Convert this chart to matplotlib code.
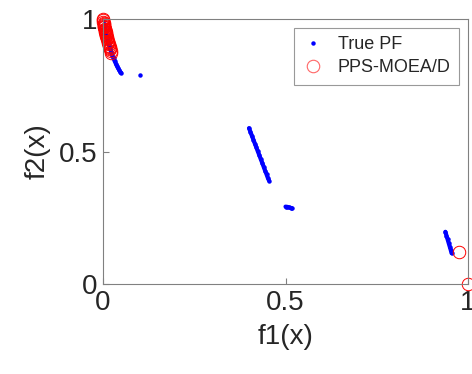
import matplotlib
matplotlib.use("Agg")
import matplotlib.pyplot as plt

plt.rcParams['font.family'] = ['Liberation Sans', 'DejaVu Sans']

# True PF (blue dots), one list pair per disconnected piece
pf1_x = [0.000, 0.002, 0.004, 0.006, 0.008, 0.010, 0.012, 0.014, 0.016, 0.018, 0.020,
         0.023, 0.026, 0.029, 0.032, 0.035, 0.038, 0.041, 0.044, 0.047, 0.050]
pf1_y = [1.000, 0.982, 0.968, 0.955, 0.944, 0.933, 0.923, 0.913, 0.904, 0.895, 0.886,
         0.874, 0.862, 0.851, 0.841, 0.832, 0.823, 0.815, 0.808, 0.801, 0.796]
pf2_x = [0.100]
pf2_y = [0.790]
pf3_x = [0.400, 0.404, 0.408, 0.412, 0.416, 0.420, 0.424, 0.428, 0.432, 0.436,
         0.440, 0.444, 0.448, 0.452, 0.455]
pf3_y = [0.588, 0.574, 0.559, 0.545, 0.530, 0.516, 0.501, 0.487, 0.472, 0.458,
         0.443, 0.428, 0.414, 0.399, 0.390]
pf4_x = [0.500, 0.505, 0.510, 0.515, 0.518]
pf4_y = [0.292, 0.291, 0.289, 0.287, 0.285]
pf5_x = [0.938, 0.941, 0.944, 0.947, 0.950, 0.953, 0.955]
pf5_y = [0.197, 0.183, 0.169, 0.155, 0.141, 0.127, 0.116]

# PPS-MOEA/D solutions (red circles)
pps_x = [0.000, 0.0005, 0.001, 0.0015, 0.002, 0.0025, 0.003, 0.0035, 0.004, 0.0045,
         0.005, 0.0055, 0.006, 0.0065, 0.007, 0.0075, 0.008, 0.0085, 0.009, 0.0095,
         0.010, 0.011, 0.012, 0.013, 0.014, 0.015, 0.016, 0.017, 0.018, 0.019,
         0.020, 0.021, 0.022, 0.975, 1.000]
pps_y = [1.000, 0.995, 0.990, 0.986, 0.982, 0.978, 0.975, 0.971, 0.968, 0.964,
         0.961, 0.958, 0.955, 0.952, 0.950, 0.947, 0.944, 0.941, 0.938, 0.936,
         0.933, 0.928, 0.923, 0.918, 0.913, 0.908, 0.904, 0.899, 0.895, 0.890,
         0.886, 0.880, 0.870, 0.121, 0.000]

x_ticks = [0, 0.5, 1]
y_ticks = [0, 0.5, 1]
x_ticklabels = ['0', '0.5', '1']
y_ticklabels = ['0', '0.5', '1']

fig = plt.figure(figsize=(4.72, 3.74), dpi=100)
ax = fig.add_axes([103/472, (374-284)/374, (468-103)/472, (284-19)/374])

blue = (0, 0, 1)
for xs, ys in [(pf1_x, pf1_y), (pf2_x, pf2_y), (pf3_x, pf3_y), (pf4_x, pf4_y), (pf5_x, pf5_y)]:
    ax.plot(xs, ys, linestyle='-', linewidth=3.0, solid_capstyle='round',
            marker='o', markersize=3.2, color=blue, markeredgewidth=0)

ax.plot(pps_x, pps_y, linestyle='none', marker='o', markersize=9,
        markerfacecolor='none', markeredgecolor=(1, 0, 0), markeredgewidth=0.7,
        clip_on=False)

ax.set_xlim(0, 1)
ax.set_ylim(0, 1)
ax.set_xticks(x_ticks)
ax.set_xticklabels(x_ticklabels)
ax.set_yticks(y_ticks)
ax.set_yticklabels(y_ticklabels)

axcol = (0.5, 0.5, 0.5)
txtcol = (0.15, 0.15, 0.15)
for s in ax.spines.values():
    s.set_color(axcol)
    s.set_linewidth(0.8)
ax.tick_params(direction='in', length=4, width=0.8, color=axcol,
               labelsize=20, labelcolor=txtcol, pad=4)

ax.set_xlabel('f1(x)', fontsize=20, color=txtcol, labelpad=6)
ax.set_ylabel('f2(x)', fontsize=20, color=txtcol, labelpad=6)

h1 = plt.Line2D([], [], linestyle='none', marker='o', markersize=3.2,
                color=blue, markeredgewidth=0)
h2 = plt.Line2D([], [], linestyle='none', marker='o', markersize=9,
                markerfacecolor='none', markeredgecolor=(1, 0.4, 0.4), markeredgewidth=0.8)
leg = ax.legend([h1, h2], ['True PF', 'PPS-MOEA/D'], loc='upper right',
                fontsize=13, frameon=True, fancybox=False, borderpad=0.45,
                handlelength=1.2, handletextpad=0.8, borderaxespad=0.5,
                labelspacing=0.35)
leg.get_frame().set_edgecolor(axcol)
leg.get_frame().set_linewidth(0.8)
for t in leg.get_texts():
    t.set_color(txtcol)

fig.savefig('out.png', dpi=100)
